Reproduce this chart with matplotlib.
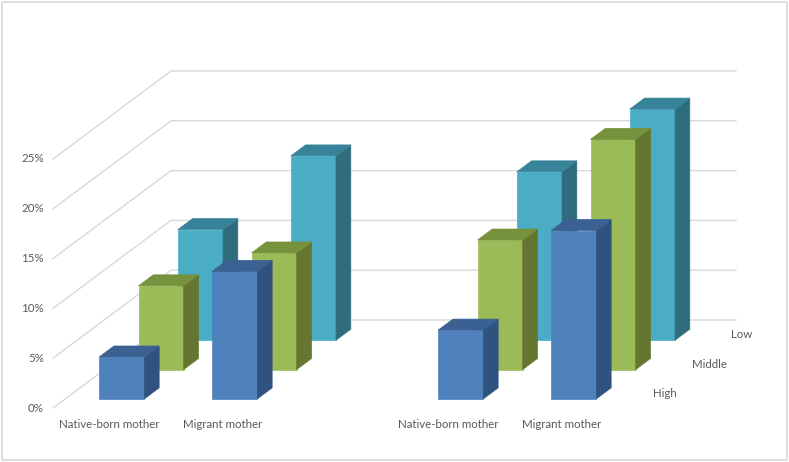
"""3D-style clustered columns (Excel look) drawn with an oblique projection."""

import matplotlib
matplotlib.use("Agg")
import matplotlib.pyplot as plt
from matplotlib.patches import Polygon, Rectangle

# ---- data (percent) ----
categories = ["Native-born mother", "Migrant mother", "", "Native-born mother", "Migrant mother"]
series = ["High", "Middle", "Low"]
high = [4.2, 12.8, None, 6.9, 16.9]
middle = [8.4, 11.7, None, 13.0, 23.1]
low = [11.1, 18.5, None, 16.9, 23.2]
y_ticks = [0, 5, 10, 15, 20, 25]

# ---- styling ----
face_colors = {
    "High": ("#4F81BD", "#3A6192", "#30527F"),
    "Middle": ("#9BBB59", "#77923C", "#64762F"),
    "Low": ("#4BACC6", "#37849A", "#2F6D7E"),
}
GRID = "#D9D9D9"
TEXT = "#595959"
FONT = "Lato"
FS = 8.3

# projection: x in category slots, v in percent, d depth in [0, 1]
PX_SLOT = 113.0
PX_PCT = 9.96
DEPTH_X = 118.0 / PX_SLOT
DEPTH_Y = 88.0 / PX_PCT
BAR_W = 0.4
BAR_D = 0.125


def proj(x, v, d):
    return (x + d * DEPTH_X, v + d * DEPTH_Y)


fig = plt.figure(figsize=(7.89, 4.62), dpi=100)
ax = fig.add_axes([0, 0, 1, 1])
ax.set_xlim(-53 / PX_SLOT, (789 - 53) / PX_SLOT)
ax.set_ylim(-(462 - 408) / PX_PCT, 408 / PX_PCT)
ax.axis("off")

fig.patches.append(Rectangle((0.003, 0.005), 0.994, 0.99, transform=fig.transFigure,
                             fill=False, edgecolor=GRID, linewidth=1.2))

n_slots = len(categories)

# walls: gridlines on side wall and back wall
for v in y_ticks:
    x0, y0 = proj(0, v, 0)
    x1, y1 = proj(0, v, 1)
    x2, y2 = proj(n_slots, v, 1)
    ax.plot([x0, x1, x2], [y0, y1, y2], color=GRID, linewidth=1.0, zorder=1)
    ax.text(x0 - 9 / PX_SLOT, y0, f"{v}%", ha="right", va="center",
            fontsize=FS, color=TEXT, family=FONT)

# bars: back row first
rows = {"High": high, "Middle": middle, "Low": low}
for r in reversed(range(len(series))):
    name = series[r]
    values = rows[name]
    front, top, side = face_colors[name]
    center = (r + 0.5) / len(series)
    d0, d1 = center - BAR_D / 2, center + BAR_D / 2
    for i, v in enumerate(values):
        if v is None:
            continue
        xl = i + 0.5 - BAR_W / 2
        xr = xl + BAR_W
        front_pts = [proj(xl, 0, d0), proj(xr, 0, d0), proj(xr, v, d0), proj(xl, v, d0)]
        side_pts = [proj(xr, 0, d0), proj(xr, 0, d1), proj(xr, v, d1), proj(xr, v, d0)]
        top_pts = [proj(xl, v, d0), proj(xr, v, d0), proj(xr, v, d1), proj(xl, v, d1)]
        z = 10 + (len(series) - r) * 3
        ax.add_patch(Polygon(front_pts, closed=True, facecolor=front, edgecolor=front,
                             linewidth=0.5, zorder=z))
        ax.add_patch(Polygon(side_pts, closed=True, facecolor=side, edgecolor=side,
                             linewidth=0.5, zorder=z))
        ax.add_patch(Polygon(top_pts, closed=True, facecolor=top, edgecolor=top,
                             linewidth=0.5, zorder=z))

    # depth axis label at the floor's right edge
    lx, ly = proj(n_slots, 0, center)
    ax.text(lx + 15 / PX_SLOT, ly, name, ha="left", va="center",
            fontsize=FS, color=TEXT, family=FONT)

# category labels along the front edge
for i, cat in enumerate(categories):
    if cat:
        ax.text(i + 0.5, -16 / PX_PCT, cat, ha="center", va="center",
                fontsize=FS, color=TEXT, family=FONT)

fig.savefig("out.png", dpi=100)
